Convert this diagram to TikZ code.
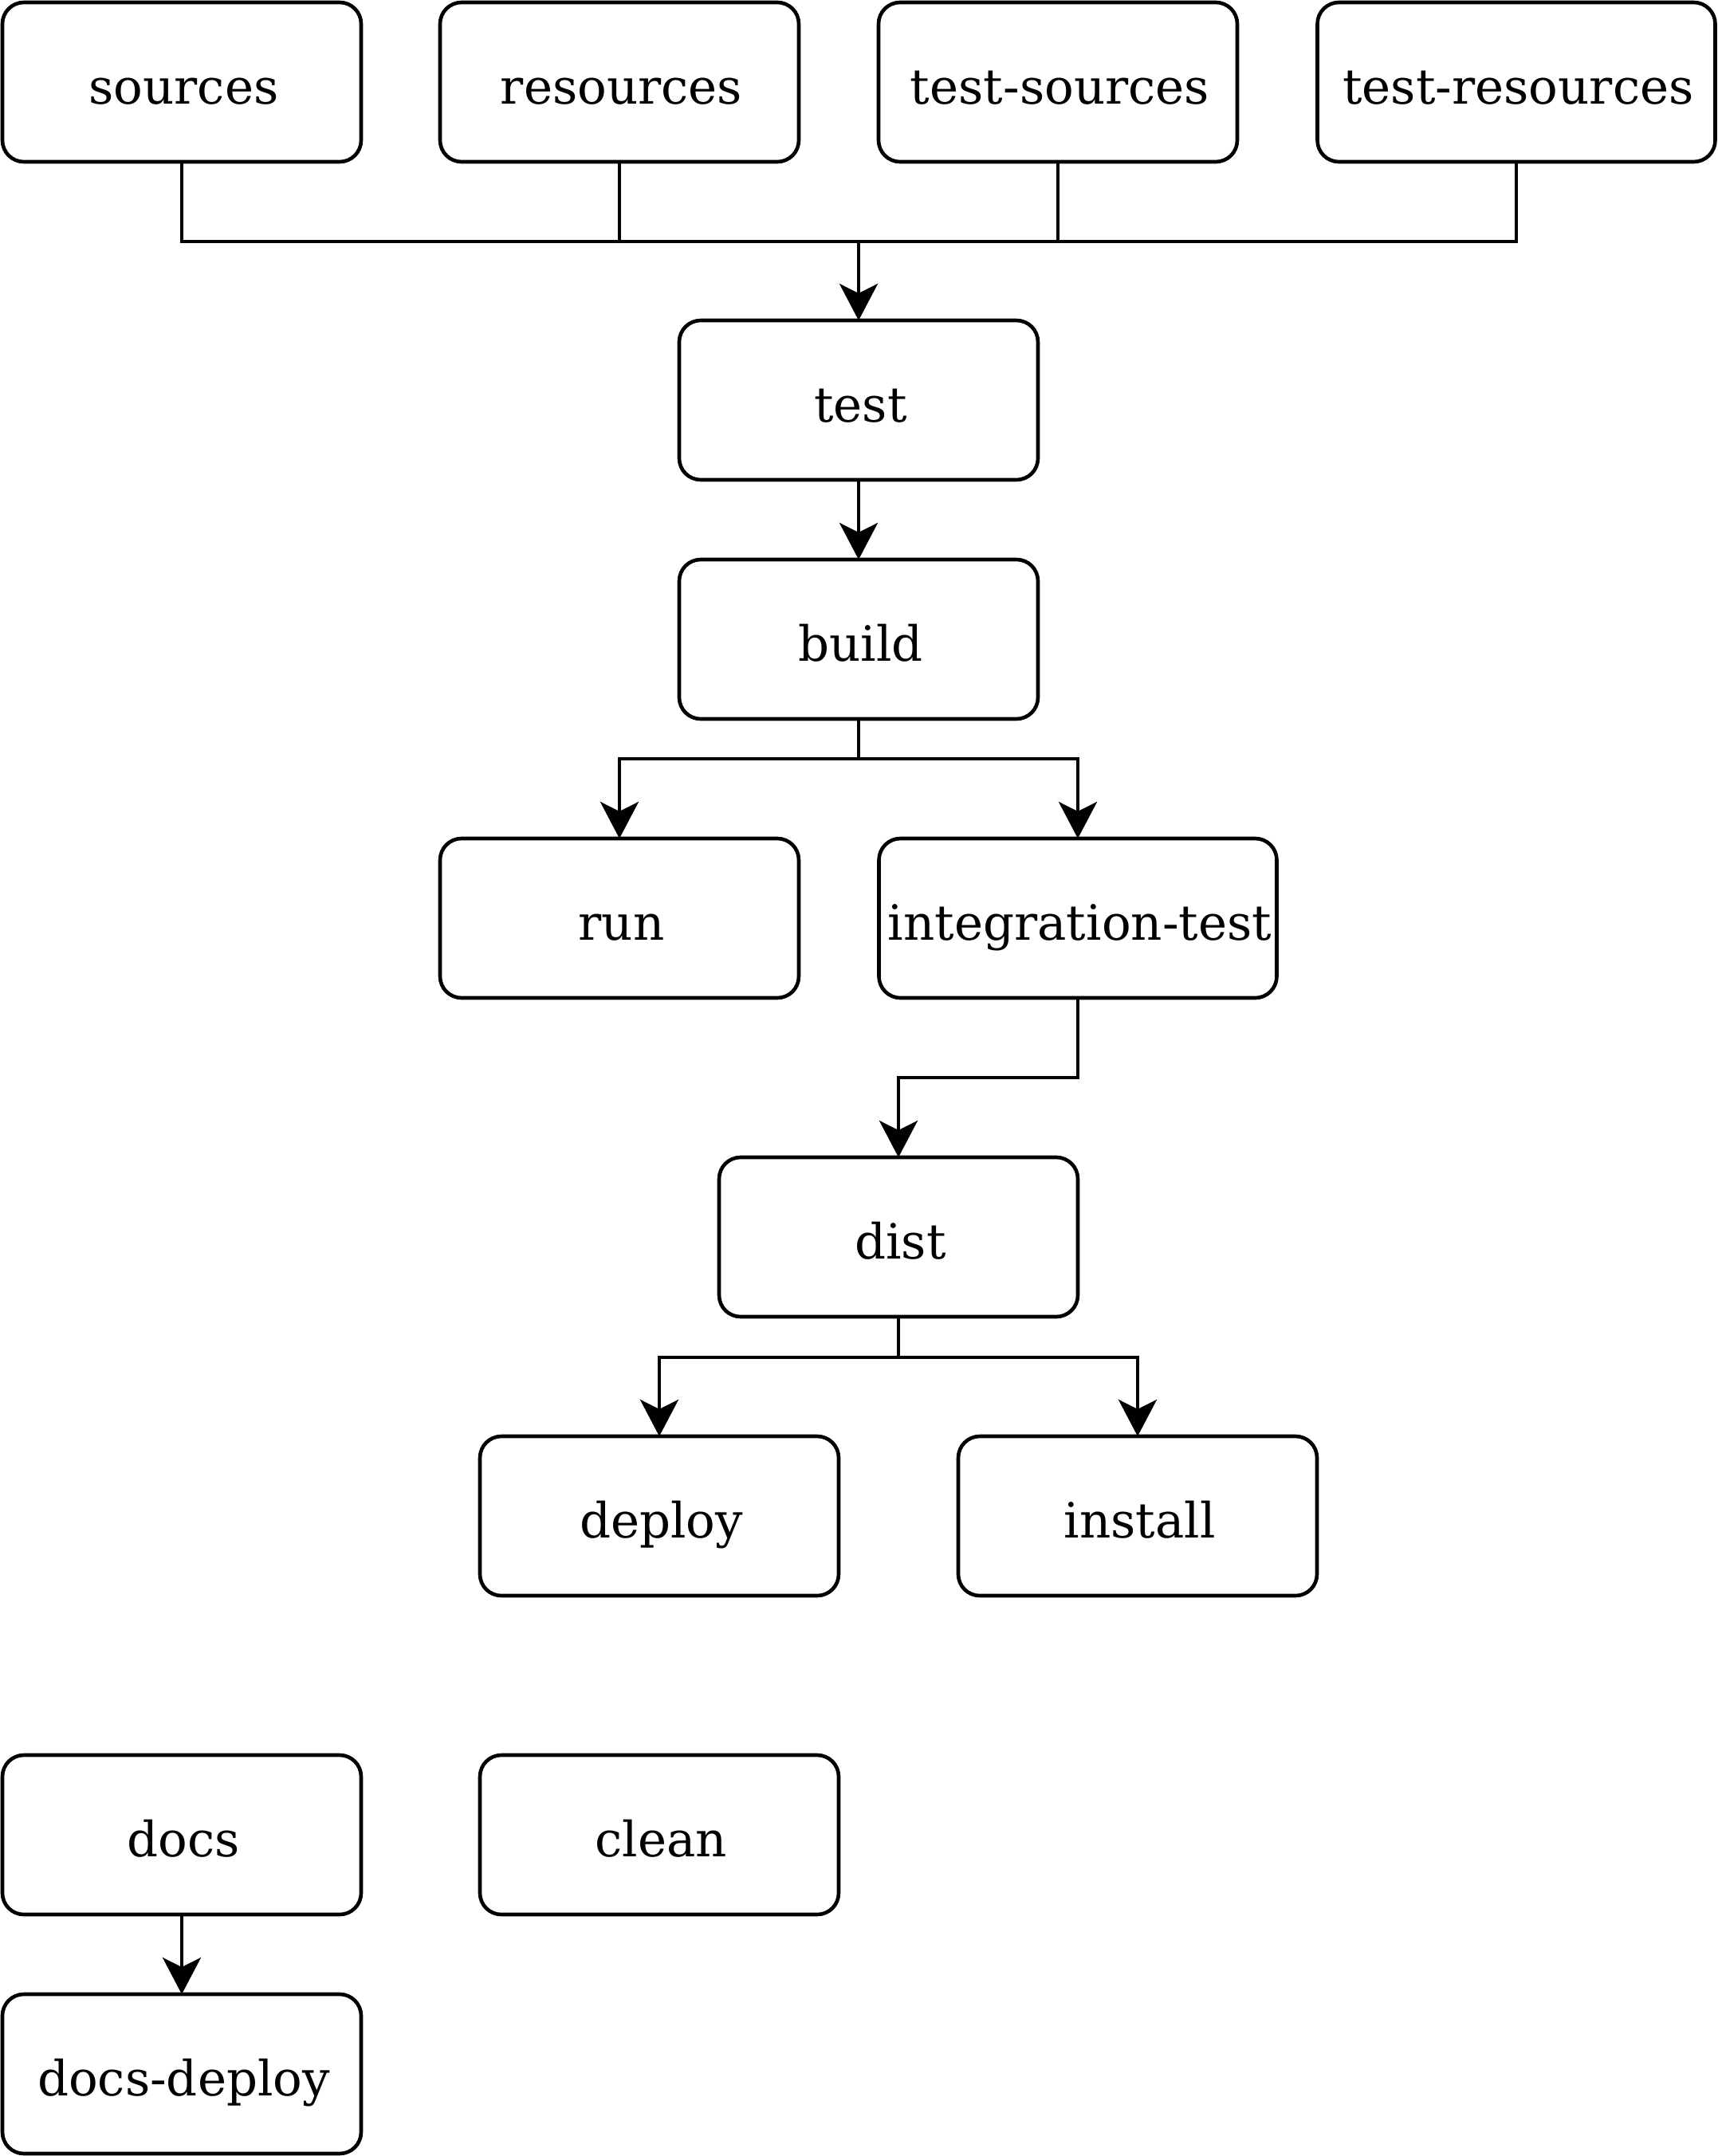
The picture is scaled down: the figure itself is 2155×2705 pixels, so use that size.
\documentclass[tikz,border=0pt]{standalone}
\usepackage{fontspec}
\setmainfont{DejaVu Serif}
\usetikzlibrary{arrows.meta}
\begin{document}
\begin{tikzpicture}[x=0.5pt,y=-0.5pt,
  box/.style={draw=black, line width=2.3pt, rounded corners=13.5pt, fill=white,
    minimum width=225pt, minimum height=100pt, inner sep=0pt, outer sep=0pt,
    text height=27pt, text depth=0pt,
    execute at begin node=\hspace*{2.5pt},
    font=\fontsize{30.5}{36}\selectfont},
  widebox/.style={box, minimum width=249.5pt},
  conn/.style={draw=black, line width=2.3pt},
  arr/.style={conn, -{Stealth[length=23pt, width=24pt, inset=6pt]}}]
\useasboundingbox (0,0) rectangle (2155,2705);
% nodes
\node[box] (sources) at (228,103) {sources};
\node[box] (resources) at (777,103) {resources};
\node[box] (testsrc) at (1327,103) {test-sources};
\node[widebox] (testres) at (1902,103) {test-resources};
\node[box] (test) at (1077,502) {test};
\node[box] (build) at (1077,802) {build};
\node[box] (run) at (777,1152) {run};
\node[widebox] (integ) at (1352,1152) {integration-test};
\node[box] (dist) at (1127,1552) {dist};
\node[box] (deploy) at (827,1902) {deploy};
\node[box] (install) at (1427,1902) {install};
\node[box] (docs) at (228,2302) {docs};
\node[box] (clean) at (827,2302) {clean};
\node[box] (docsdeploy) at (228,2602) {docs-deploy};
% junctions
\coordinate (bus) at (1077,303);
\coordinate (b1) at (1077,952);
\coordinate (c1) at (1127,1352);
\coordinate (d1) at (1127,1703);
% connectors
\draw[conn] (sources.south) |- (bus);
\draw[conn] (testres.south) |- (bus);
\draw[conn] (resources.south) -- (resources.south |- bus);
\draw[conn] (testsrc.south) -- (testsrc.south |- bus);
\draw[arr] (bus) -- (test.north);
\draw[arr] (test.south) -- (build.north);
\draw[conn] (build.south) -- (b1);
\draw[arr] (b1) -| (run.north);
\draw[arr] (b1) -| (integ.north);
\draw[arr] (integ.south) |- (c1) -- (dist.north);
\draw[conn] (dist.south) -- (d1);
\draw[arr] (d1) -| (deploy.north);
\draw[arr] (d1) -| (install.north);
\draw[arr] (docs.south) -- (docsdeploy.north);
\end{tikzpicture}
\end{document}
